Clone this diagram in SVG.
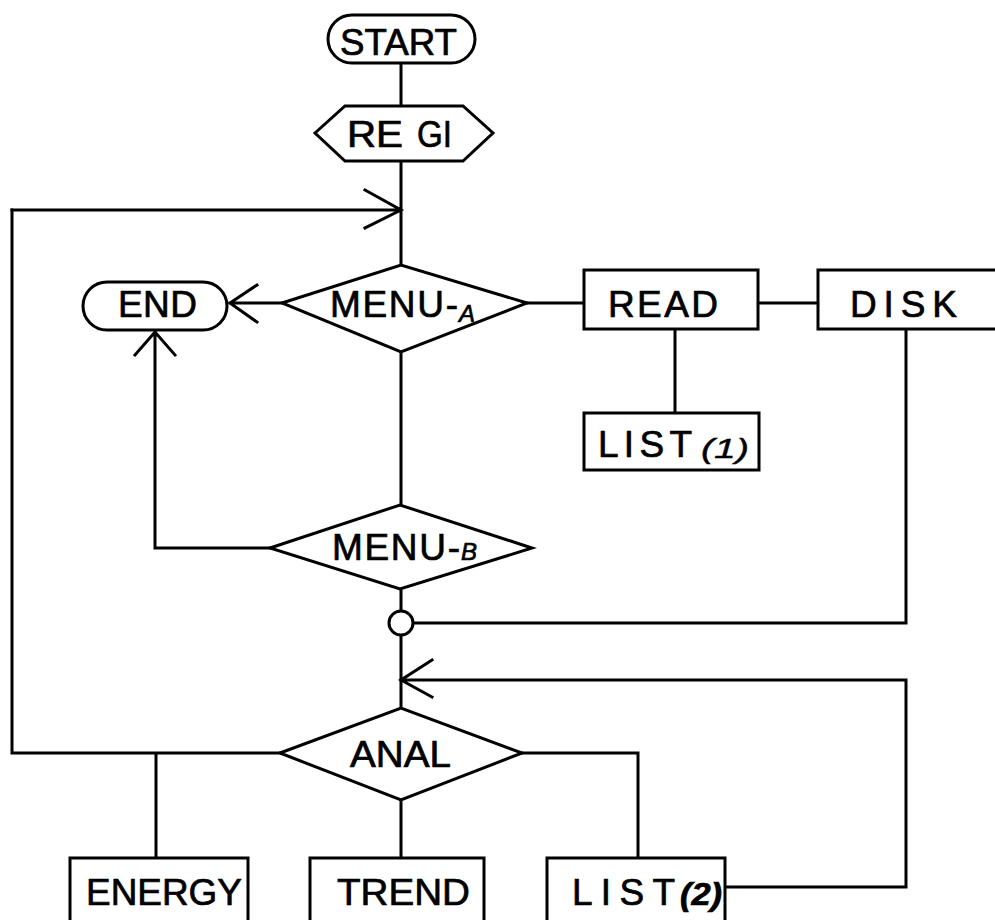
<svg xmlns="http://www.w3.org/2000/svg" width="995" height="920" viewBox="0 0 995 920">
<style>
.s{fill:none;stroke:#000;stroke-width:3;stroke-linejoin:miter;stroke-linecap:square}
.n{fill:#fff;stroke:#000;stroke-width:3}
.t{font-family:"Liberation Sans","DejaVu Sans",sans-serif;font-size:37px;fill:#000;stroke:#000;stroke-width:0.7}
.i{font-style:italic;font-size:24px}
</style>
<rect width="995" height="920" fill="#fff"/>
<g id="connectors">
<path class="s" d="M401 63V106M401 161V265M12 210H401M365 190L401 210L365 228"/>
<path class="s" d="M282 303H230M257 285L230 303L257 322"/>
<path class="s" d="M155 332V548H270M135 355L155 332L175 355"/>
<path class="s" d="M401 352V505M527 303H584M758 303H818M675 329V413"/>
<path class="s" d="M401 589V611M401 635V708M413 623H906V329"/>
<path class="s" d="M12 210V753H280M156 753V858M401 800V858M522 753H638V858"/>
<path class="s" d="M725 887H906V680H401M432 660L401 680L432 697"/>
</g>
<g id="start"><rect class="n" x="328" y="15" width="147" height="48" rx="24"/><text class="t" x="340" y="55" textLength="117" lengthAdjust="spacingAndGlyphs">START</text></g>
<g id="regi"><path class="n" d="M315 133L345 106H463L493 133L463 161H345Z"/><text class="t" y="147"><tspan x="347" textLength="56" lengthAdjust="spacingAndGlyphs">RE</tspan><tspan x="417" textLength="35" lengthAdjust="spacingAndGlyphs">GI</tspan></text></g>
<g id="menu-a"><path class="n" d="M282 303L401 265L527 303L401 352Z"/><text class="t" y="317"><tspan x="330" textLength="128" lengthAdjust="spacing">MENU-</tspan><tspan class="i" x="459" y="322">A</tspan></text></g>
<g id="end"><rect class="n" x="83" y="282" width="144" height="48" rx="24"/><text class="t" x="118" y="317" textLength="79" lengthAdjust="spacing">END</text></g>
<g id="read"><rect class="n" x="584" y="270" width="174" height="59"/><text class="t" x="608" y="317" textLength="110" lengthAdjust="spacing">READ</text></g>
<g id="disk"><rect class="n" x="818" y="270" width="190" height="59"/><text class="t" x="850" y="317" textLength="107" lengthAdjust="spacing">DISK</text></g>
<g id="list1"><rect class="n" x="584" y="413" width="175" height="57"/><text class="t" x="598" y="457" textLength="94" lengthAdjust="spacing">LIST</text><text class="t" x="701" y="458" style="font-style:italic;font-size:28px;stroke-width:0.4" textLength="48" lengthAdjust="spacingAndGlyphs">(1)</text></g>
<g id="menu-b"><path class="n" d="M270 548L400 505L532 548L400 589Z"/><text class="t" y="560"><tspan x="332" textLength="128" lengthAdjust="spacing">MENU-</tspan><tspan class="i" x="461">B</tspan></text></g>
<g id="junction"><circle class="n" cx="401" cy="623" r="12"/></g>
<g id="anal"><path class="n" d="M280 753L401 708L522 753L401 800Z"/><text class="t" x="350" y="767" textLength="101" lengthAdjust="spacingAndGlyphs">ANAL</text></g>
<g id="energy"><rect class="n" x="70" y="858" width="178" height="80"/><text class="t" x="86" y="905" textLength="156" lengthAdjust="spacingAndGlyphs">ENERGY</text></g>
<g id="trend"><rect class="n" x="310" y="858" width="174" height="80"/><text class="t" x="337" y="905" textLength="133" lengthAdjust="spacingAndGlyphs">TREND</text></g>
<g id="list2"><rect class="n" x="547" y="858" width="178" height="80"/><text class="t" y="905"><tspan x="572" textLength="103" lengthAdjust="spacing">LIST</tspan><tspan x="680" font-style="italic" font-weight="bold" font-size="32" textLength="42" lengthAdjust="spacingAndGlyphs">(2)</tspan></text></g>
</svg>
